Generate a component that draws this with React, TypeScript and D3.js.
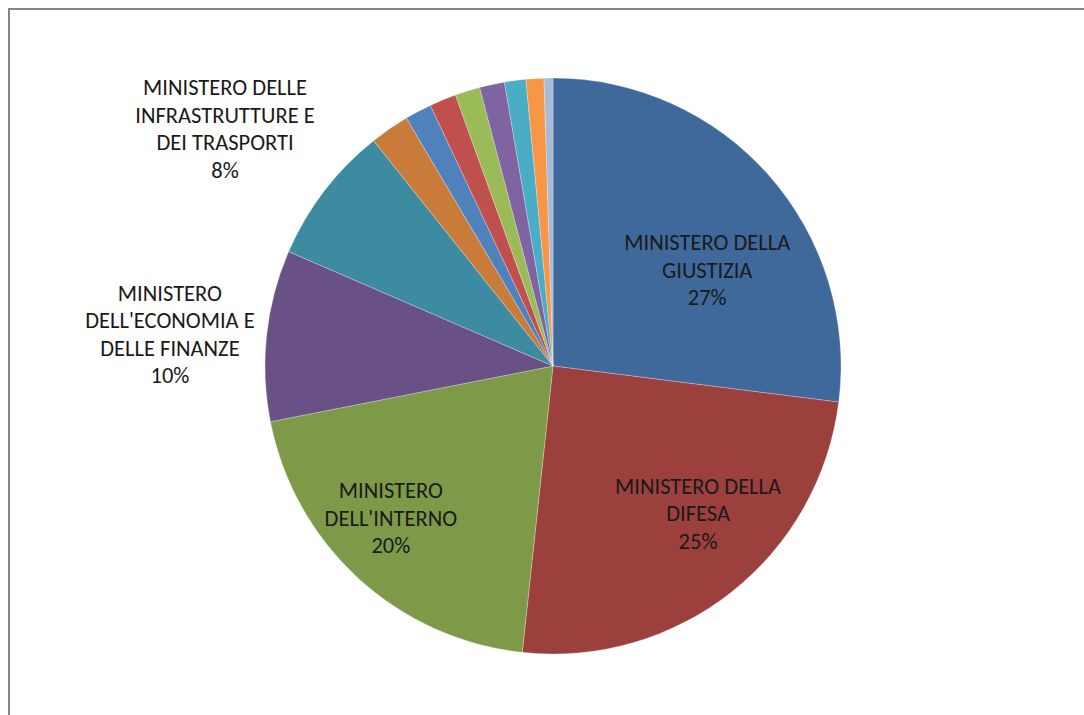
import React, { useRef, useEffect } from 'react';
import * as d3 from 'd3';

// Slices in drawing order, clockwise from 12 o'clock
const categories = [
  'MINISTERO DELLA\nGIUSTIZIA',
  'MINISTERO DELLA\nDIFESA',
  "MINISTERO\nDELL'INTERNO",
  "MINISTERO\nDELL'ECONOMIA E\nDELLE FINANZE",
  'MINISTERO DELLE\nINFRASTRUTTURE E\nDEI TRASPORTI',
  'MINISTERO DEGLI AFFARI ESTERI',
  "MINISTERO DELL'ISTRUZIONE",
  'MINISTERO DEL LAVORO',
  'MINISTERO DELLA SALUTE',
  'MINISTERO DELLO SVILUPPO ECONOMICO',
  'MINISTERO DELLE POLITICHE AGRICOLE',
  "MINISTERO DELL'AMBIENTE",
  'MINISTERO DEI BENI CULTURALI',
];
const values = [27.0, 24.7, 20.2, 9.6, 7.8, 2.2, 1.5, 1.5, 1.4, 1.4, 1.2, 1.0, 0.5];
const colors = [
  '#3f699b', '#9c403e', '#7e9a49', '#695186', '#3c8ba1', '#c97c39',
  '#4f81bd', '#c0504d', '#9bbb59', '#8064a2', '#4bacc6', '#f79646', '#a9b9d8',
];

const W = 1084;
const H = 715;

const App: React.FC = () => {
  const svgRef = useRef<SVGSVGElement>(null);

  useEffect(() => {
    if (!svgRef.current) return;
    const svg = d3.select(svgRef.current);
    svg.selectAll('*').remove();

    // chart area frame (runs off the right and bottom edges)
    svg.append('rect')
      .attr('x', 9).attr('y', 9)
      .attr('width', W + 20).attr('height', H + 20)
      .attr('fill', '#fff')
      .attr('stroke', '#878787')
      .attr('stroke-width', 2);

    const cx = 553;
    const cy = 366;
    const radius = 288;
    const fontSize = 22.5;
    const lh = 27.5;
    // best-fit tweaks for the labels drawn inside slices
    const insideNudge: Record<number, [number, number]> = { 0: [3, 37], 1: [20, -11], 2: [-26, 3] };

    const total = d3.sum(values);
    const pie = d3.pie<number>().sort(null).value(d => d);
    const arcs = pie(values);
    const arc = d3.arc<d3.PieArcDatum<number>>().innerRadius(0).outerRadius(radius);

    const g = svg.append('g').attr('transform', `translate(${cx},${cy})`);

    g.selectAll('path')
      .data(arcs)
      .enter()
      .append('path')
      .attr('d', arc as any)
      .attr('fill', (d, i) => colors[i])
      .attr('stroke', '#fff')
      .attr('stroke-opacity', 0.35)
      .attr('stroke-width', 0.75);

    // data labels: name + percentage, big slices inside, medium ones outside
    arcs.forEach((a, i) => {
      const share = a.value / total;
      if (share < 0.05) return;
      const lines = [...categories[i].split('\n'), `${Math.round(share * 100)}%`];
      const mid = (a.startAngle + a.endAngle) / 2;

      const text = g.append('text')
        .attr('font-family', 'Calibri, Carlito, Lato, sans-serif')
        .attr('font-size', fontSize)
        .attr('fill', '#1a1a1a')
        .attr('text-anchor', 'middle')
        .attr('dominant-baseline', 'central');
      lines.forEach((l, j) => {
        text.append('tspan').attr('x', 0).attr('dy', j === 0 ? 0 : lh).text(l);
      });

      const bw = d3.max(text.selectAll<SVGTSpanElement, unknown>('tspan').nodes(), n => n.getComputedTextLength()) || 0;
      const bh = lines.length * lh;
      let x: number;
      let y: number;
      if (share >= 0.15) {
        const p = radius * 0.7;
        const [nx, ny] = insideNudge[i] || [0, 0];
        x = Math.sin(mid) * p + nx;
        y = -Math.cos(mid) * p + ny;
      } else {
        const p = radius + 12;
        const px = Math.sin(mid) * p;
        const py = -Math.cos(mid) * p;
        const c = -Math.cos(mid);
        const f = Math.sign(c) * Math.min(1, Math.max(0, (Math.abs(c) - 0.15) / 0.4));
        x = px + Math.sign(px) * bw / 2;
        y = py + f * bh / 2;
      }
      text.attr('transform', `translate(${x},${y - bh / 2 + lh / 2})`);
    });
  }, []);

  return (
    <svg
      ref={svgRef}
      width={W}
      height={H}
      style={{ position: 'absolute', left: 0, top: 0, background: '#fff' }}
    />
  );
};

export default App;
